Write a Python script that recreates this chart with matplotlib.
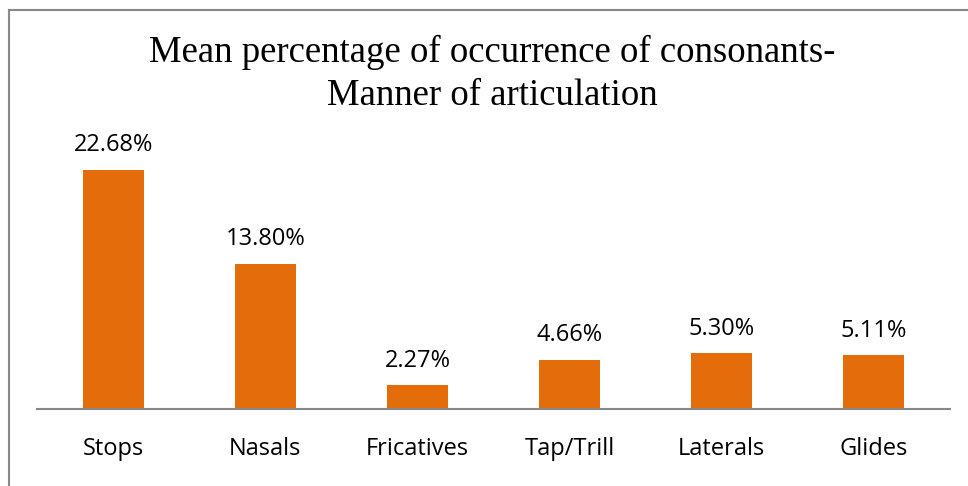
import matplotlib
matplotlib.use("Agg")
import matplotlib.pyplot as plt
from matplotlib.lines import Line2D

categories = ["Stops", "Nasals", "Fricatives", "Tap/Trill", "Laterals", "Glides"]
values = [22.68, 13.80, 2.27, 4.66, 5.30, 5.11]
labels = ["22.68%", "13.80%", "2.27%", "4.66%", "5.30%", "5.11%"]

W, H = 968, 486
fig = plt.figure(figsize=(W / 100, H / 100), dpi=100)
ax = fig.add_axes([37 / W, 1 - 409 / H, (950 - 37) / W, (409 - 145.5) / H])

x = range(len(categories))
bars = ax.bar(x, values, width=0.4, color="#E46C0A")
ax.set_xlim(-0.5, len(categories) - 0.5)
ax.set_ylim(0, 25)

for b, lab in zip(bars, labels):
    ax.annotate(lab, (b.get_x() + b.get_width() / 2, b.get_height()),
                xytext=(0, 9), textcoords="offset points", ha="center", va="bottom",
                fontsize=17, family="Open Sans", color="#000000")

ax.set_xticks(list(x))
ax.set_xticklabels(categories, fontsize=17, family="Open Sans")
ax.tick_params(axis="x", length=0, pad=20)
ax.set_yticks([])
for s in ["top", "right", "left"]:
    ax.spines[s].set_visible(False)
ax.spines["bottom"].set_color("#888888")
ax.spines["bottom"].set_linewidth(1.5)

fig.text(492 / W, 1 - 74 / H, "Mean percentage of occurrence of consonants-\nManner of articulation",
         ha="center", va="center", fontsize=26.5, family="Liberation Serif", linespacing=1.33)

# outer frame (only left and top visible in the crop)
fig.add_artist(Line2D([9 / W, 9 / W], [0, 1 - 10 / H], transform=fig.transFigure, color="#888888", lw=1.5))
fig.add_artist(Line2D([9 / W, 1], [1 - 10 / H, 1 - 10 / H], transform=fig.transFigure, color="#888888", lw=1.5))

fig.savefig("out.png", dpi=100)
